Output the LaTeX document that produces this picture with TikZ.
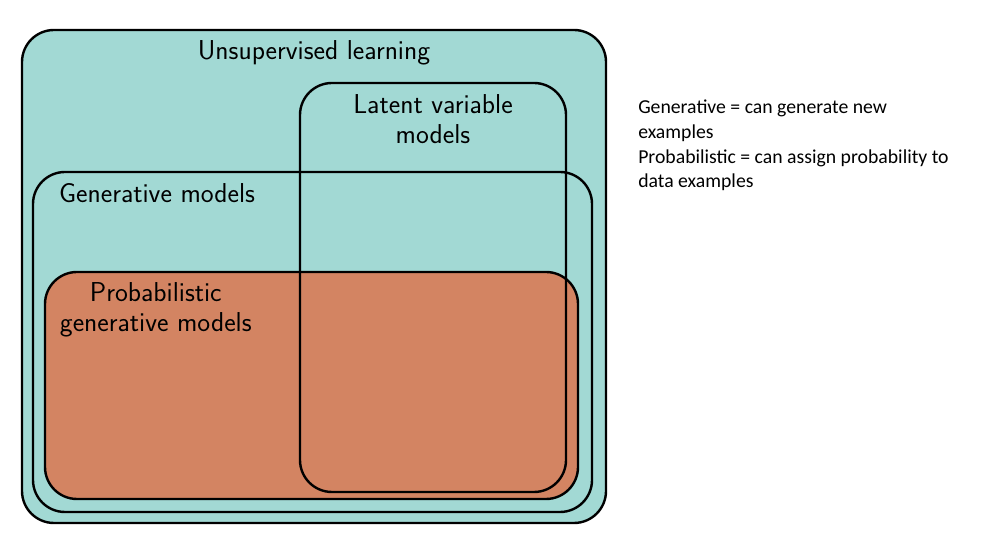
\documentclass[tikz,border=0pt]{standalone}
\usepackage{fontspec}
\newfontfamily\notefont{Carlito}
\usetikzlibrary{positioning}

\definecolor{setteal}{HTML}{A2D9D4}
\definecolor{setorange}{HTML}{D38462}

\tikzset{
  setbox/.style={rectangle,draw,line width=1.8pt,rounded corners=24pt,inner sep=0pt},
  setlabel/.style={font=\sffamily\fontsize{20.5}{22.5}\selectfont,inner sep=0pt,align=center}
}

\begin{document}
\begin{tikzpicture}[x=0.75pt,y=-0.75pt]
\useasboundingbox (0,0) rectangle (986,555);

% Unsupervised
\node[setbox,fill=setteal,minimum width=584*0.75pt,minimum height=493*0.75pt] at (314,276.5) (unsup) {};
\node[setlabel] at ([yshift=-18pt]unsup.north) (unsuplbl) {Unsupervised learning};

% Generative
\node[setbox,fill=setteal,minimum width=559*0.75pt,minimum height=340*0.75pt] at (312.5,342) (gen) {};
\node[setlabel,anchor=west] at ([xshift=20.25pt,yshift=-16.5pt]gen.north west) (genlbl) {Generative models};

% Probabilistic
\node[setbox,fill=setorange,minimum width=533*0.75pt,minimum height=227*0.75pt] at (311.5,385.5) (prob) {};
\node[setlabel] at ([xshift=84pt,yshift=-29pt]prob.north west) (problbl) {Probabilistic\\generative models};

% Latent
\node[setbox,minimum width=266*0.75pt,minimum height=409*0.75pt] at (433,287.5) (latent) {};
\node[setlabel] at ([yshift=-28pt]latent.north) (latentlbl) {Latent variable\\models};

% note
\node[anchor=west,align=left,inner sep=0pt,font=\notefont\fontsize{14.8}{18.5}\selectfont] at (638,145.5) (note) {Generative = can generate new\\examples\\Probabilistic = can assign probability to\\data examples};
\end{tikzpicture}
\end{document}
